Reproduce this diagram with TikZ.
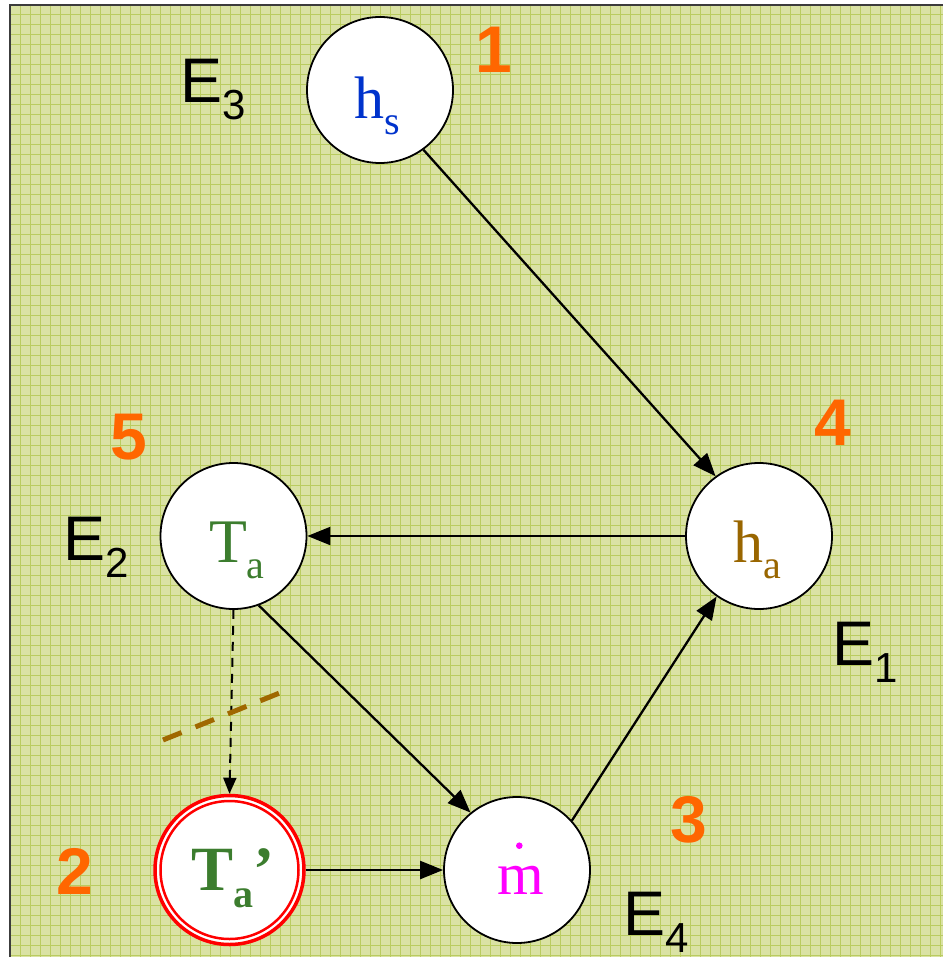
\documentclass[tikz,border=0pt]{standalone}
\usepackage{fontspec}
\setmainfont{Liberation Serif}
\newfontfamily\arialf{Liberation Sans}
\usetikzlibrary{arrows.meta,calc}
\definecolor{bgc}{RGB}{218,226,164}
\definecolor{gridc}{RGB}{186,204,96}
\definecolor{framec}{RGB}{60,60,60}
\definecolor{hsblue}{RGB}{0,51,204}
\definecolor{habrown}{RGB}{153,102,0}
\definecolor{tagreen}{RGB}{60,125,46}
\definecolor{numorange}{RGB}{255,102,0}
\definecolor{cutbrown}{RGB}{160,104,0}
\definecolor{mdotpink}{RGB}{255,0,255}
\newcommand\vlbl[3]{{\fontsize{#3}{#3}\selectfont #1}\raisebox{-16pt}{\fontsize{40}{40}\selectfont #2}}
\newcommand\elbl[2]{{\arialf\fontsize{63}{63}\selectfont #1}\raisebox{-17pt}{\arialf\fontsize{42}{42}\selectfont #2}}
\tikzset{
  circ/.style={circle, draw=black, fill=white, line width=1.8pt, minimum size=146pt, inner sep=0pt},
  txt/.style={inner sep=0pt, outer sep=0pt, anchor=base west},
  num/.style={inner sep=0pt, anchor=base, text=numorange, font=\arialf\bfseries\fontsize{66}{66}\selectfont},
  conn/.style={line width=2.3pt, -{Triangle[length=23pt,width=18pt]}},
}
\begin{document}
\begin{tikzpicture}[x=1pt,y=-1pt]
\useasboundingbox (0,0) rectangle (943,957);
\fill[bgc] (10,5) rectangle (943,957);
\foreach \i in {2,...,94} \draw[gridc,line width=1pt] (\i*10,5) -- (\i*10,957);
\foreach \j in {1,...,95} \draw[gridc,line width=1pt] (10,\j*10+5) -- (943,\j*10+5);
\draw[framec, line width=2pt] (10,957) -- (10,5) -- (943,5);

% circles
\node[circ] (hs) at (380,90) {};
\node[circ] (ha) at (759,536) {};
\node[circ] (ta) at (233.5,536) {};
\node[circ] (m) at (517,870) {};
\node[circle, draw=red, fill=white, line width=3.5pt, minimum size=149pt, inner sep=0pt] (tap) at (229.5,870) {};
\node[circle, draw=red, line width=2.5pt, minimum size=138pt, inner sep=0pt] (tapin) at (tap.center) {};

% circle texts
\node[txt, text=hsblue] (hst) at (354,119) {\vlbl{h}{s}{60}};
\node[txt, text=habrown] (hat) at (733,562) {\vlbl{h}{a}{60}};
\node[txt, text=tagreen] (tat) at (209,562) {\vlbl{T}{a}{62}};
\node[txt, text=tagreen, font=\bfseries] (tapt) at (191,890) {{\fontsize{63}{63}\selectfont T}\raisebox{-17pt}{\fontsize{40}{40}\selectfont a}{\fontsize{63}{63}\selectfont ’}};
\node[inner sep=0pt, anchor=base, text=mdotpink] (mt) at (521,894) {\fontsize{60}{60}\selectfont m};
\fill[mdotpink] (519.3,845.7) circle (3.3);

% E labels
\node[txt] (e1) at (832,665) {\elbl{E}{1}};
\node[txt] (e2) at (63,560) {\elbl{E}{2}};
\node[txt] (e3) at (180,103) {\elbl{E}{3}};
\node[txt] (e4) at (623,935) {\elbl{E}{4}};

% numbers
\node[num] (n1) at (494,73) {1};
\node[num] (n2) at (75,894) {2};
\node[num] (n3) at (689,842) {3};
\node[num] (n4) at (833,445) {4};
\node[num] (n5) at (129,459) {5};

% connectors
\draw[conn] (hs.-54) -- (ha.126);
\draw[conn] (ha.west) -- (ta.east);
\draw[conn] (ta.-70) -- (m.129);
\draw[conn] (m.42) -- (ha.235);
\draw[conn] (tap.east) -- (m.west);
\draw[line width=2pt, dash pattern=on 9pt off 7pt, -{Triangle[length=16pt,width=13pt]}] (ta.south) -- (tap.north);

% cut line
\coordinate (c1) at (163,740);
\coordinate (c2) at (287,690);
\draw[cutbrown, line width=5pt, dash pattern=on 20pt off 15pt] (c1) -- (c2);
\end{tikzpicture}
\end{document}
